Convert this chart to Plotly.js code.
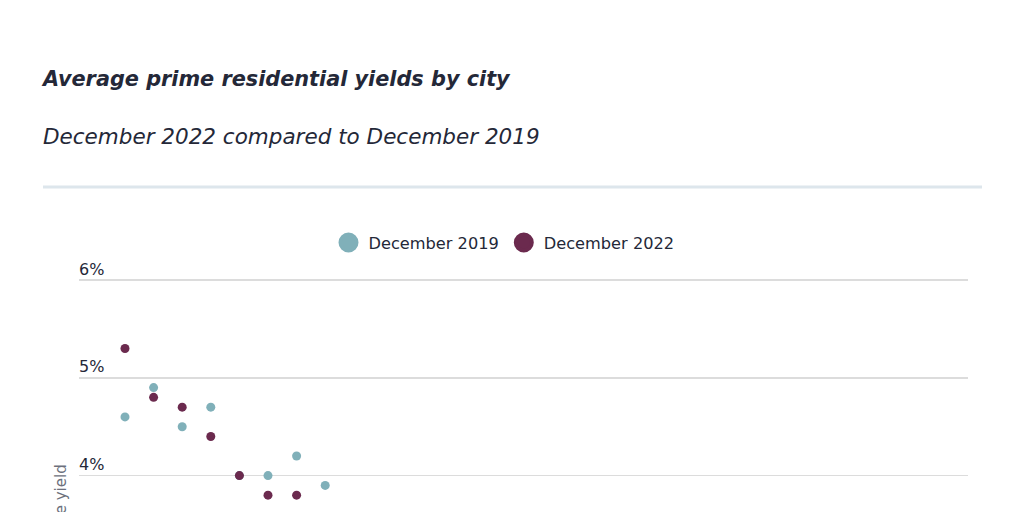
<!DOCTYPE html>
<html>
<head>
<meta charset="utf-8">
<script src="https://cdn.plot.ly/plotly-3.0.1.min.js"></script>
<style>
  html, body { margin: 0; padding: 0; background: #ffffff; overflow: hidden; }
  #chart { width: 1024px; height: 512px; }
</style>
</head>
<body>
<div id="chart"></div>
<script>
// ---- data ----
const cities = [
  "Dublin", "Madrid", "Barcelona", "Lisbon", "Berlin", "Amsterdam", "Stockholm", "Milan",
  "Rome", "Frankfurt", "Munich", "Copenhagen", "Brussels", "Vienna", "Zurich", "Geneva",
  "Oslo", "Helsinki", "Edinburgh", "London", "Manchester", "Birmingham", "Bristol", "Leeds",
  "Glasgow", "Cardiff", "Liverpool", "Oxford", "Cambridge", "Bath"
];
const yield2019 = [
  4.6, 4.9, 4.5, 4.7, 4.0, 4.0, 4.2, 3.9, 3.5, 3.4,
  3.5, 3.2, 3.1, 3.3, 3.0, 2.9, 3.1, 2.8, 2.7, 2.9,
  2.6, 2.5, 2.7, 2.4, 2.3, 2.2, 2.4, 2.0, 1.9, 1.7
];
const yield2022 = [
  5.3, 4.8, 4.7, 4.4, 4.0, 3.8, 3.8, 3.6, 3.6, 3.5,
  3.4, 3.4, 3.3, 3.2, 3.2, 3.1, 3.0, 3.0, 2.9, 2.8,
  2.8, 2.7, 2.6, 2.5, 2.5, 2.4, 2.3, 2.2, 2.0, 1.8
];
const seriesNames = ["December 2019", "December 2022"];
const yTickVals = [1, 2, 3, 4, 5, 6];
const yTickText = ["1%", "2%", "3%", "4%", "5%", "6%"];

const titleText = "Average prime residential yields by city";
const subtitleText = "December 2022 compared to December 2019";
const yAxisTitle = "Prime yield";

// ---- style ----
const TEAL = "#80b0b9";
const MAROON = "#6b2a4e";
const INK = "#242838";
const FONT = "'DejaVu Sans', sans-serif";

const W = 1024, H = 512;
const plotLeft = 79, plotRight = 968, plotTop = 278;
const pxPerPct = 97.8;
const catFirst = 125, catStep = 28.6;
const gridTop6 = 280;

const plotH = H - plotTop;
const yMax = 6 + (gridTop6 - plotTop) / pxPerPct;
const yMin = yMax - plotH / pxPerPct;
const xMin = -(catFirst - plotLeft) / catStep;
const xMax = (plotRight - catFirst) / catStep;

const traces = [
  {
    type: "scatter", mode: "markers", name: seriesNames[0],
    x: cities, y: yield2019, showlegend: false, legendgroup: "a",
    marker: { color: TEAL, size: 9 }, cliponaxis: false
  },
  {
    type: "scatter", mode: "markers", name: seriesNames[1],
    x: cities, y: yield2022, showlegend: false, legendgroup: "b",
    marker: { color: MAROON, size: 9 }, cliponaxis: false
  },
  {
    type: "scatter", mode: "markers", name: seriesNames[0],
    x: [null], y: [null], legendgroup: "a", hoverinfo: "skip",
    marker: { color: TEAL, size: 16, line: { color: TEAL, width: 4 } }
  },
  {
    type: "scatter", mode: "markers", name: seriesNames[1],
    x: [null], y: [null], legendgroup: "b", hoverinfo: "skip",
    marker: { color: MAROON, size: 16, line: { color: MAROON, width: 4 } }
  }
];

const paperY = (py) => (H - py) / plotH;
const paperX = (px) => (px - plotLeft) / (plotRight - plotLeft);

const layout = {
  width: W, height: H,
  paper_bgcolor: "#ffffff", plot_bgcolor: "#ffffff",
  font: { family: FONT, color: INK },
  margin: { l: plotLeft, r: W - plotRight, t: plotTop, b: 0, pad: 0 },
  showlegend: true,
  title: {
    text: titleText,
    font: { family: FONT, size: 20.8, weight: 700, style: "italic", color: INK },
    xref: "container", x: 43 / W, xanchor: "left",
    yref: "container", y: 1 - 79 / H, yanchor: "middle"
  },
  legend: {
    orientation: "h",
    xref: "container", x: 504 / W, xanchor: "center",
    yref: "container", y: 1 - 243 / H, yanchor: "middle",
    font: { family: FONT, size: 16.2, color: INK },
    itemwidth: 30
  },
  xaxis: {
    type: "category",
    range: [xMin, xMax],
    showgrid: false, zeroline: false, showline: false,
    showticklabels: false, ticks: "",
    fixedrange: true
  },
  yaxis: {
    range: [yMin, yMax],
    tickvals: yTickVals, ticktext: yTickText,
    showgrid: true, gridcolor: "#dcdcdc", gridwidth: 1.5,
    zeroline: false, showline: false, ticks: "",
    ticklabelposition: "inside",
    ticklabelshift: -11,
    ticklabelstandoff: -3,
    ticklabeloverflow: "allow",
    tickfont: { family: FONT, size: 16, color: INK },
    fixedrange: true
  },
  annotations: [
    {
      text: subtitleText, showarrow: false,
      xref: "paper", x: paperX(43), xanchor: "left", xshift: -2,
      yref: "paper", y: paperY(137), yanchor: "middle",
      font: { family: FONT, size: 21.5, style: "italic", color: INK }
    },
    {
      text: yAxisTitle, showarrow: false, textangle: -90,
      xref: "paper", x: paperX(61), xanchor: "center",
      yref: "paper", y: paperY(462), yanchor: "top",
      font: { family: FONT, size: 15, color: "#6c707c" }
    }
  ],
  shapes: [
    {
      type: "line", xref: "paper", yref: "paper",
      x0: paperX(43), x1: paperX(982), y0: paperY(187), y1: paperY(187),
      line: { color: "#dde6ec", width: 3 }
    }
  ]
};

Plotly.newPlot("chart", traces, layout, { displayModeBar: false, staticPlot: true });
</script>
</body>
</html>
